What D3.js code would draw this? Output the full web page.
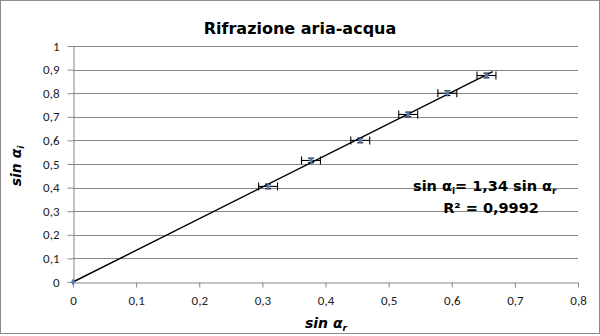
<!DOCTYPE html>
<html>
<head>
<meta charset="utf-8">
<script src="https://cdn.jsdelivr.net/npm/d3@7"></script>
<style>
  body { margin: 0; background: #fff; }
  svg { display: block; }
</style>
</head>
<body>
<svg id="chart"></svg>
<script>
var width = 600;
var height = 336;

// measured values: sin of refraction angle (x) vs sin of incidence angle (y)
var sinR = [0, 0.309, 0.377, 0.455, 0.531, 0.593, 0.655];
var sinI = [0, 0.405, 0.515, 0.600, 0.710, 0.800, 0.875];
var errR = [0, 0.015, 0.015, 0.015, 0.015, 0.015, 0.015];
var errI = [0, 0.01, 0.01, 0.01, 0.01, 0.01, 0.01];
var slope = 1.34;
var fitEnd = 0.665;
var xTicks = [0, 0.1, 0.2, 0.3, 0.4, 0.5, 0.6, 0.7, 0.8];
var yTicks = [0, 0.1, 0.2, 0.3, 0.4, 0.5, 0.6, 0.7, 0.8, 0.9, 1];

var points = sinR.map((d, i) => ({x: d, y: sinI[i], ex: errR[i], ey: errI[i]}));

var plotLeft = 73, plotRight = 578, plotTop = 46, plotBottom = 282;

var xScale = d3.scaleLinear().domain([0, 0.8]).range([plotLeft, plotRight]);
var yScale = d3.scaleLinear().domain([0, 1]).range([plotBottom, plotTop]);

var fmt = d => d3.format("")(d).replace(".", ",");
var comic = "'Comic Sans MS', 'DejaVu Sans', sans-serif";
var label = "Calibri, 'Open Sans', 'Liberation Sans', sans-serif";

var svg = d3.select("#chart")
    .attr("width", width)
    .attr("height", height);

// outer frame
svg.append("rect")
    .attr("x", 0.5).attr("y", 0.5)
    .attr("width", width - 1).attr("height", height - 3)
    .attr("fill", "#fff")
    .attr("stroke", "#8c8c8c");

// horizontal gridlines
svg.append("g")
  .selectAll("line")
  .data(yTicks.slice(1))
  .enter()
  .append("line")
    .attr("x1", plotLeft).attr("x2", plotRight)
    .attr("y1", d => Math.round(yScale(d)) + 0.5)
    .attr("y2", d => Math.round(yScale(d)) + 0.5)
    .attr("stroke", "#878787");

var xAxis = d3.axisBottom(xScale)
    .tickValues(xTicks)
    .tickFormat(fmt)
    .tickSize(5)
    .tickSizeOuter(0)
    .tickPadding(8);
var yAxis = d3.axisLeft(yScale)
    .tickValues(yTicks)
    .tickFormat(fmt)
    .tickSize(6)
    .tickSizeOuter(0)
    .tickPadding(8);

var gx = svg.append("g")
    .attr("transform", "translate(0," + (plotBottom + 0.5) + ")")
    .call(xAxis);
var gy = svg.append("g")
    .attr("transform", "translate(" + (plotLeft + 0.5) + ",0)")
    .call(yAxis);

[gx, gy].forEach(g => {
  g.select(".domain").attr("stroke", "#878787");
  g.selectAll(".tick line").attr("stroke", "#878787");
  g.selectAll(".tick text")
    .attr("fill", "#222")
    .style("font-family", label)
    .style("font-size", "13px");
});

// fitted line through origin
svg.append("line")
    .attr("x1", xScale(0)).attr("y1", yScale(0))
    .attr("x2", xScale(fitEnd)).attr("y2", yScale(slope * fitEnd))
    .attr("stroke", "#000")
    .attr("stroke-width", 1.4);

// error bars
var eb = svg.append("g")
  .selectAll("g")
  .data(points.filter(d => d.ex > 0))
  .enter()
  .append("g")
    .attr("stroke", "#000")
    .attr("stroke-width", 1.1);

eb.append("line")
    .attr("x1", d => xScale(d.x - d.ex)).attr("x2", d => xScale(d.x + d.ex))
    .attr("y1", d => yScale(d.y)).attr("y2", d => yScale(d.y));
eb.append("line")
    .attr("x1", d => xScale(d.x - d.ex)).attr("x2", d => xScale(d.x - d.ex))
    .attr("y1", d => yScale(d.y) - 4).attr("y2", d => yScale(d.y) + 4);
eb.append("line")
    .attr("x1", d => xScale(d.x + d.ex)).attr("x2", d => xScale(d.x + d.ex))
    .attr("y1", d => yScale(d.y) - 4).attr("y2", d => yScale(d.y) + 4);
eb.append("line")
    .attr("x1", d => xScale(d.x)).attr("x2", d => xScale(d.x))
    .attr("y1", d => yScale(d.y - d.ey)).attr("y2", d => yScale(d.y + d.ey));
eb.append("line")
    .attr("x1", d => xScale(d.x) - 3).attr("x2", d => xScale(d.x) + 3)
    .attr("y1", d => yScale(d.y - d.ey)).attr("y2", d => yScale(d.y - d.ey));
eb.append("line")
    .attr("x1", d => xScale(d.x) - 3).attr("x2", d => xScale(d.x) + 3)
    .attr("y1", d => yScale(d.y + d.ey)).attr("y2", d => yScale(d.y + d.ey));

// markers
svg.append("g")
  .selectAll("path")
  .data(points)
  .enter()
  .append("path")
    .attr("d", d3.symbol().type(d3.symbolDiamond).size(14))
    .attr("transform", d => "translate(" + xScale(d.x) + "," + yScale(d.y) + ")")
    .attr("fill", "#4a7ebb");

// title
svg.append("text")
    .attr("x", 300).attr("y", 34)
    .attr("text-anchor", "middle")
    .style("font-family", comic)
    .style("font-weight", "bold")
    .style("font-size", "16px")
    .text("Rifrazione aria-acqua");

// equation
var eq = svg.append("text")
    .attr("x", 413).attr("y", 191)
    .style("font-family", comic)
    .style("font-weight", "bold")
    .style("font-size", "14.5px");
eq.append("tspan").text("sin α");
eq.append("tspan").attr("dy", 3).style("font-size", "9px").text("i");
eq.append("tspan").attr("dy", -3).text("= 1,34 sin α");
eq.append("tspan").attr("dy", 3).style("font-size", "9px").text("r");

var r2 = svg.append("text")
    .attr("x", 491).attr("y", 213)
    .attr("text-anchor", "middle")
    .style("font-family", comic)
    .style("font-weight", "bold")
    .style("font-size", "14.5px");
r2.append("tspan").text("R² = 0,9992");

// axis titles
var xt = svg.append("text")
    .attr("x", 326).attr("y", 328)
    .attr("text-anchor", "middle")
    .style("font-family", comic)
    .style("font-weight", "bold")
    .style("font-style", "italic")
    .style("font-size", "14px");
xt.append("tspan").text("sin α");
xt.append("tspan").attr("dy", 3).style("font-size", "9px").text("r");

var yt = svg.append("text")
    .attr("transform", "translate(21,166) rotate(-90)")
    .attr("text-anchor", "middle")
    .style("font-family", comic)
    .style("font-weight", "bold")
    .style("font-style", "italic")
    .style("font-size", "14px");
yt.append("tspan").text("sin α");
yt.append("tspan").attr("dy", 3).style("font-size", "9px").text("i");
</script>
</body>
</html>
